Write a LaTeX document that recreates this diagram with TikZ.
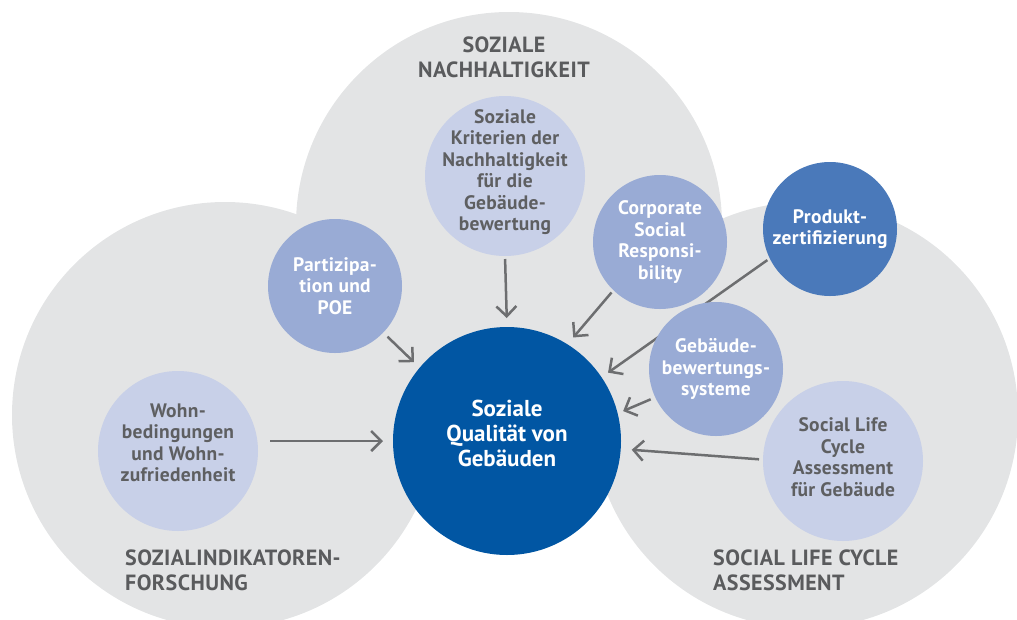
\documentclass[tikz,border=0pt]{standalone}
\usepackage{fontspec}
\setmainfont{PT Sans}
\newfontfamily\smallfam[LetterSpace=1.5]{PT Sans}
\newfontfamily\labelfam[LetterSpace=2]{PT Sans}
\usetikzlibrary{arrows.meta}
\definecolor{bggrey}{HTML}{E3E4E5}
\definecolor{centreblue}{HTML}{0156A3}
\definecolor{lightblue}{HTML}{C8D0E8}
\definecolor{midblue}{HTML}{99ABD5}
\definecolor{prodblue}{HTML}{4A79BA}
\definecolor{arrowgrey}{HTML}{6D6E70}
\definecolor{textgrey}{HTML}{5E5F61}
\definecolor{labelgrey}{HTML}{5A5B5D}
\tikzset{
  bigcircle/.style={circle, fill=bggrey, inner sep=0pt, outer sep=0pt, minimum size=426pt},
  smallfont/.style={font=\smallfam\fontsize{19.5}{21.5}\selectfont\bfseries},
  smallcirc/.style={circle, inner sep=0pt, outer sep=0pt, align=center, smallfont},
  lightc/.style={smallcirc, fill=lightblue, text=textgrey, minimum size=160pt},
  midc/.style={smallcirc, fill=midblue, text=white, minimum size=134pt},
  prodc/.style={smallcirc, fill=prodblue, text=white, minimum size=134pt},
  centrec/.style={circle, fill=centreblue, inner sep=0pt, outer sep=0pt, minimum size=228pt},
  centrefont/.style={font=\fontsize{23}{25}\selectfont\bfseries},
  areatext/.style={text=labelgrey, font=\labelfam\fontsize{22}{25}\selectfont\bfseries, inner sep=0pt},
  arr/.style={draw=arrowgrey, line width=2.5pt, -{Straight Barb[length=10pt, width=20pt, line width=2.5pt]}},
  plaintext/.style={inner sep=0pt, outer sep=0pt, align=center}
}
\begin{document}
\begin{tikzpicture}[x=1pt, y=-1pt]
\useasboundingbox (0,0) rectangle (1017,619);
\begin{scope}
\clip (0,0) rectangle (1017,619);
\node[bigcircle] (topc) at (509,225) {};
\node[bigcircle] (leftc) at (225,415) {};
\node[bigcircle] (rightc) at (805,415) {};
\end{scope}

\node[areatext, align=center] (lbltop) at (504,57.5) {SOZIALE\\NACHHALTIGKEIT};
\node[areatext, align=left, anchor=west] (lblleft) at (125,570) {SOZIALINDIKATOREN-\\FORSCHUNG};
\node[areatext, align=left, anchor=west] (lblright) at (713,570) {SOCIAL LIFE CYCLE\\ASSESSMENT};

% nodes
\node[centrec] (center) at (507,441) {};
\node[plaintext, text=white, centrefont] (centertxt) at (507,433) {Soziale\\Qualität von\\Gebäuden};

\node[lightc] (krit) at (505,176) {};
\node[plaintext, text=textgrey, smallfont] (krittxt) at (505,172) {Soziale\\Kriterien der\\Nachhaltigkeit\\für die\\Gebäude-\\bewertung};

\node[midc] (part) at (335,286) {Partizipa-\\tion und\\POE};
\node[midc] (csr) at (660,242) {Corporate\\Social\\Responsi-\\bility};
\node[prodc] (prod) at (830,229) {Produkt-\\zertifizierung};

\node[lightc] (wohn) at (178,451) {};
\node[plaintext, text=textgrey, smallfont] (wohntxt) at (178,443) {Wohn-\\bedingungen\\und Wohn-\\zufriedenheit};

% arrow that passes under the Gebäudebewertungssysteme circle
\draw[arr, shorten <=3pt, shorten >=8pt] (prod.206) -- (center.34);

\node[midc] (geb) at (716,369) {Gebäude-\\bewertungs-\\systeme};

\node[lightc] (slca) at (843,461) {};
\node[plaintext, text=textgrey, smallfont] (slcatxt) at (843,457) {Social Life\\Cycle\\Assessment\\für Gebäude};

\draw[arr, shorten <=12pt, shorten >=10pt] (wohn.east |- center.west) -- (center.west);
\draw[arr, shorten <=6pt, shorten >=8pt] (part.-44) -- (center.140);
\draw[arr, shorten <=3pt, shorten >=9pt] (krit.south) -- (center.north);
\draw[arr, shorten <=3pt, shorten >=9pt] (csr.226) -- (center.58);
\draw[arr, shorten <=5pt, shorten >=6pt] (geb.205) -- (center.14);
\draw[arr, shorten <=4pt, shorten >=11pt] (slca.179) -- (center.-4);
\end{tikzpicture}
\end{document}
